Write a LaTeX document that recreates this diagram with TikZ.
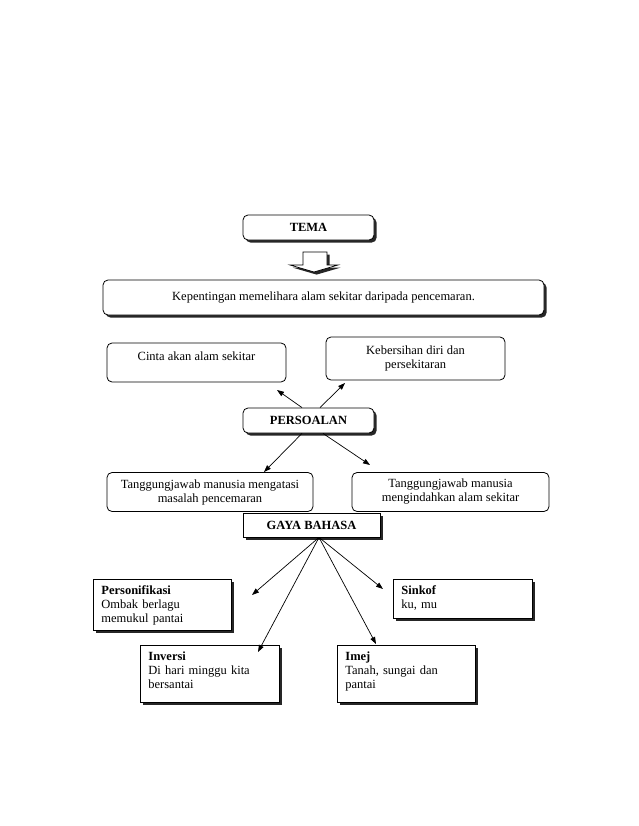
\documentclass[tikz,border=0pt]{standalone}
\usepackage{fontspec}
\setmainfont{Liberation Serif}
\usetikzlibrary{shadows,arrows.meta}

\begin{document}
\begin{tikzpicture}[
  x=1pt, y=-1pt,
  font=\fontsize{12.5}{14}\selectfont,
  line width=0.8pt,
  shd/.style={drop shadow={shadow xshift=2.6pt, shadow yshift=-2.6pt, fill=black!85, opacity=1}},
  rbox/.style={draw=black, fill=white, rounded corners=5pt, align=center, inner sep=0pt},
  sbox/.style={rbox, shd},
  gbox/.style={draw=black, fill=white, shd, align=left, anchor=north west,
               inner xsep=8pt, inner ysep=3pt, text height=12.5pt},
  arr/.style={-{Triangle[length=7pt, width=5pt]}, line width=0.7pt},
  bt/.style={font=\fontsize{12.5}{14}\selectfont\bfseries}
]
\useasboundingbox (0,0) rectangle (638,826);

% ===================== TEMA =====================
\node[sbox, bt, minimum width=131pt, minimum height=25pt] (tema) at (308.5,227.5) {TEMA};

% hollow block arrow
\draw[fill=white, shd, line width=0.7pt]
  (303,252) -- (327,252) -- (327,265) -- (338,265) -- (314,272) -- (290,265) -- (303,265) -- cycle;

\node[sbox, minimum width=441pt, minimum height=35pt] (kep) at (323.5,297.5)
  {Kepentingan memelihara alam sekitar daripada pencemaran.};

% ===================== PERSOALAN =====================
\node[rbox, minimum width=179pt, minimum height=39pt, text depth=13pt] (cinta) at (196.5,362.5)
  {Cinta akan alam sekitar};
\node[rbox, minimum width=179pt, minimum height=43pt] (bersih) at (415.5,358.5)
  {Kebersihan diri dan\\persekitaran};

\node[sbox, bt, minimum width=131pt, minimum height=25pt] (pers) at (308.5,420.5) {PERSOALAN};

\node[rbox, minimum width=206pt, minimum height=39pt] (tjL) at (210,492)
  {Tanggungjawab manusia mengatasi\\masalah pencemaran};
\node[rbox, minimum width=197pt, minimum height=39pt] (tjR) at (450.5,492)
  {Tanggungjawab manusia\\mengindahkan alam sekitar};

% arrow tips
\coordinate (pA) at (277,390);
\coordinate (pB) at (345,383);
\coordinate (pC) at (264,472);
\coordinate (pD) at (370,465);

\draw[arr] ([xshift=-6.5pt]pers.north) -- (pA);
\draw[arr] ([xshift=11.5pt]pers.north) -- (pB);
\draw[arr] ([xshift=-6.5pt]pers.south) -- (pC);
\draw[arr] ([xshift=14.5pt]pers.south) -- (pD);

% ===================== GAYA BAHASA =====================
\node[sbox, bt, rounded corners=0pt, minimum width=137pt, minimum height=24pt] (gaya) at (311.5,525)
  {GAYA BAHASA};

\node[gbox, text width=122pt, text depth=32.5pt] (pers1) at (93,579)
  {\textbf{Personifikasi}\\Ombak berlagu\\memukul pantai};
\node[gbox, text width=123pt, text depth=20.5pt] (sink) at (393,579)
  {\textbf{Sinkof}\\ku, mu};
\node[gbox, text width=123pt, text depth=38.5pt] (inv) at (140,645)
  {\textbf{Inversi}\\Di hari minggu kita\\bersantai};
\node[gbox, text width=122pt, text depth=38.5pt] (imej) at (337,645)
  {\textbf{Imej}\\Tanah, sungai dan\\pantai};

% arrow tips
\coordinate (gA) at (252,595);
\coordinate (gB) at (258,652);
\coordinate (gC) at (376,644);
\coordinate (gD) at (383,589);

\draw[arr] ([xshift=7.5pt]gaya.south) -- (gA);
\draw[arr] ([xshift=7.5pt]gaya.south) -- (gB);
\draw[arr] ([xshift=7.5pt]gaya.south) -- (gC);
\draw[arr] ([xshift=7.5pt]gaya.south) -- (gD);

\end{tikzpicture}
\end{document}
